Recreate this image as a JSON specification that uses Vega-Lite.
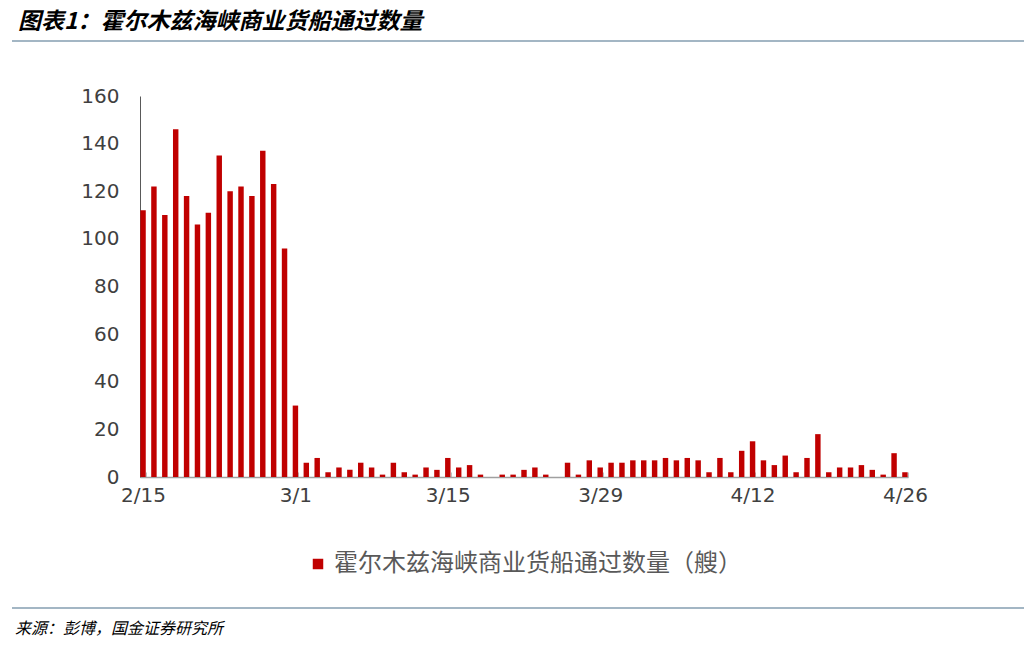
{
  "$schema": "https://vega.github.io/schema/vega-lite/v6.json",
  "background": "white",
  "padding": {"left": 12, "top": 11, "right": 0, "bottom": 10},
  "title": {
    "text": "图表1：霍尔木兹海峡商业货船通过数量",
    "anchor": "start",
    "frame": "group",
    "font": "Noto Sans CJK SC",
    "fontSize": 23,
    "fontWeight": "bold",
    "fontStyle": "italic",
    "color": "#000000",
    "offset": 6,
    "dx": 6
  },
  "config": {
    "view": {"stroke": null},
    "legend": {"layout": {"bottom": {"anchor": "middle"}}}
  },
  "spacing": 31,
  "resolve": {"legend": {"color": "independent"}},
  "vconcat": [
    {
      "spacing": 44,
      "resolve": {"legend": {"color": "independent"}},
      "vconcat": [
        {
          "width": 1012,
          "height": 2,
          "view": {"fill": "#a3b6c4", "stroke": null},
          "data": {"values": []},
          "mark": "rect",
          "encoding": {}
        },
        {
          "spacing": 20,
          "resolve": {"legend": {"color": "independent"}},
          "hconcat": [
            {
              "width": 48,
              "height": 381,
              "data": {"values": []},
              "mark": "rect",
              "encoding": {}
            },
            {
              "width": 768,
              "height": 381,
              "data": {
                "values": [
                  {"date": "2/15", "ships": 112},
                  {"date": "2/16", "ships": 122},
                  {"date": "2/17", "ships": 110},
                  {"date": "2/18", "ships": 146},
                  {"date": "2/19", "ships": 118},
                  {"date": "2/20", "ships": 106},
                  {"date": "2/21", "ships": 111},
                  {"date": "2/22", "ships": 135},
                  {"date": "2/23", "ships": 120},
                  {"date": "2/24", "ships": 122},
                  {"date": "2/25", "ships": 118},
                  {"date": "2/26", "ships": 137},
                  {"date": "2/27", "ships": 123},
                  {"date": "2/28", "ships": 96},
                  {"date": "3/1", "ships": 30},
                  {"date": "3/2", "ships": 6},
                  {"date": "3/3", "ships": 8},
                  {"date": "3/4", "ships": 2},
                  {"date": "3/5", "ships": 4},
                  {"date": "3/6", "ships": 3},
                  {"date": "3/7", "ships": 6},
                  {"date": "3/8", "ships": 4},
                  {"date": "3/9", "ships": 1},
                  {"date": "3/10", "ships": 6},
                  {"date": "3/11", "ships": 2},
                  {"date": "3/12", "ships": 1},
                  {"date": "3/13", "ships": 4},
                  {"date": "3/14", "ships": 3},
                  {"date": "3/15", "ships": 8},
                  {"date": "3/16", "ships": 4},
                  {"date": "3/17", "ships": 5},
                  {"date": "3/18", "ships": 1},
                  {"date": "3/19", "ships": 0},
                  {"date": "3/20", "ships": 1},
                  {"date": "3/21", "ships": 1},
                  {"date": "3/22", "ships": 3},
                  {"date": "3/23", "ships": 4},
                  {"date": "3/24", "ships": 1},
                  {"date": "3/25", "ships": 0},
                  {"date": "3/26", "ships": 6},
                  {"date": "3/27", "ships": 1},
                  {"date": "3/28", "ships": 7},
                  {"date": "3/29", "ships": 4},
                  {"date": "3/30", "ships": 6},
                  {"date": "3/31", "ships": 6},
                  {"date": "4/1", "ships": 7},
                  {"date": "4/2", "ships": 7},
                  {"date": "4/3", "ships": 7},
                  {"date": "4/4", "ships": 8},
                  {"date": "4/5", "ships": 7},
                  {"date": "4/6", "ships": 8},
                  {"date": "4/7", "ships": 7},
                  {"date": "4/8", "ships": 2},
                  {"date": "4/9", "ships": 8},
                  {"date": "4/10", "ships": 2},
                  {"date": "4/11", "ships": 11},
                  {"date": "4/12", "ships": 15},
                  {"date": "4/13", "ships": 7},
                  {"date": "4/14", "ships": 5},
                  {"date": "4/15", "ships": 9},
                  {"date": "4/16", "ships": 2},
                  {"date": "4/17", "ships": 8},
                  {"date": "4/18", "ships": 18},
                  {"date": "4/19", "ships": 2},
                  {"date": "4/20", "ships": 4},
                  {"date": "4/21", "ships": 4},
                  {"date": "4/22", "ships": 5},
                  {"date": "4/23", "ships": 3},
                  {"date": "4/24", "ships": 1},
                  {"date": "4/25", "ships": 10},
                  {"date": "4/26", "ships": 2}
                ]
              },
              "mark": {"type": "bar"},
              "encoding": {
                "x": {
                  "field": "date",
                  "type": "ordinal",
                  "sort": null,
                  "scale": {"paddingInner": 0.5, "paddingOuter": 0.03},
                  "axis": {
                    "values": ["2/15", "3/1", "3/15", "3/29", "4/12", "4/26"],
                    "labelAngle": 0,
                    "title": null,
                    "ticks": true,
                    "tickBand": "extent",
                    "tickSize": -5,
                    "tickColor": "#bfbfbf",
                    "tickWidth": 1,
                    "domainColor": "#a0a0a0",
                    "domainWidth": 1.5,
                    "labelFont": "DejaVu Sans",
                    "labelFontSize": 20,
                    "labelColor": "#404040",
                    "labelPadding": 13
                  }
                },
                "y": {
                  "field": "ships",
                  "type": "quantitative",
                  "scale": {"domain": [0, 160], "nice": false},
                  "axis": {
                    "values": [0, 20, 40, 60, 80, 100, 120, 140, 160],
                    "title": null,
                    "grid": false,
                    "ticks": false,
                    "domainColor": "#595959",
                    "domainWidth": 1,
                    "labelFont": "DejaVu Sans",
                    "labelFontSize": 20,
                    "labelColor": "#404040",
                    "labelPadding": 21
                  }
                },
                "color": {
                  "datum": "霍尔木兹海峡商业货船通过数量（艘）",
                  "type": "nominal",
                  "scale": {"range": ["#c00000"]},
                  "legend": {
                    "orient": "bottom",
                    "title": null,
                    "symbolType": "square",
                    "symbolSize": 110,
                    "symbolStrokeWidth": 0,
                    "labelFont": "Noto Sans CJK SC",
                    "labelFontSize": 24,
                    "labelColor": "#595959",
                    "labelLimit": 700,
                    "offset": 47
                  }
                }
              }
            }
          ]
        }
      ]
    },
    {
      "width": 1012,
      "height": 2,
      "view": {"fill": "#a3b6c4", "stroke": null},
      "title": {
        "text": "来源：彭博，国金证券研究所",
        "orient": "bottom",
        "anchor": "start",
        "frame": "group",
        "font": "Noto Sans CJK SC",
        "fontSize": 16,
        "fontWeight": "normal",
        "fontStyle": "italic",
        "color": "#000000",
        "offset": 12,
        "dx": 3
      },
      "data": {"values": []},
      "mark": "rect",
      "encoding": {}
    }
  ]
}
